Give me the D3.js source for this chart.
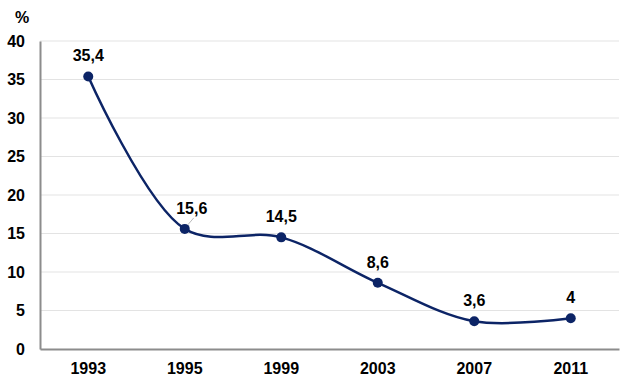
<!DOCTYPE html>
<html><head><meta charset="utf-8">
<script src="https://cdn.jsdelivr.net/npm/d3@7"></script>
<style>body{margin:0;background:#fff;}svg{display:block;font-family:"Liberation Sans",Arial,sans-serif;}</style>
</head><body>
<svg id="c" width="633" height="383"></svg>
<script>
const categories = ["1993","1995","1999","2003","2007","2011"];
const values = [35.4, 15.6, 14.5, 8.6, 3.6, 4];
const valueLabels = ["35,4","15,6","14,5","8,6","3,6","4"];
const yTicks = [0,5,10,15,20,25,30,35,40];

(function(){
const svg = d3.select("#c");
const mLeft = 40, mRight = 619, mTop = 41, mBottom = 349;
const x = d3.scaleBand().domain(categories).range([mLeft, mRight]);
const y = d3.scaleLinear().domain([0, 40]).range([mBottom, mTop]);

svg.append("g").selectAll("line").data(yTicks.filter(d => d > 0)).join("line")
  .attr("x1", mLeft).attr("x2", mRight)
  .attr("y1", d => y(d)).attr("y2", d => y(d))
  .attr("stroke", "#e3e3e3").attr("stroke-width", 1);

const ya = svg.append("g").attr("transform", `translate(${mLeft},0)`)
  .call(d3.axisLeft(y).tickValues(yTicks).tickSize(0).tickPadding(15).tickFormat(d3.format("d")));
ya.select(".domain").attr("stroke", "#8c8c8c").attr("stroke-width", 2);
ya.selectAll("text").attr("font-size", 16).attr("font-weight", "bold").attr("fill", "#000")
  .attr("font-family", "Liberation Sans, Arial, sans-serif");

const xa = svg.append("g").attr("transform", `translate(0,${mBottom})`)
  .call(d3.axisBottom(x).tickSize(0).tickPadding(14));
xa.select(".domain").attr("stroke", "#8c8c8c").attr("stroke-width", 2);
xa.selectAll("text").attr("font-size", 16).attr("font-weight", "bold").attr("fill", "#000")
  .attr("font-family", "Liberation Sans, Arial, sans-serif");

svg.append("text").attr("x", 22).attr("y", 23).attr("text-anchor", "middle")
  .attr("font-size", 16).attr("font-weight", "bold").text("%");

const cx = d => x(d) + x.bandwidth() / 2;
const pts = categories.map((c, i) => [cx(c), y(values[i])]);

svg.append("path").attr("d", d3.line().curve(d3.curveCatmullRom.alpha(0.5))(pts))
  .attr("fill", "none").attr("stroke", "#0c2466").attr("stroke-width", 2.5);

// leader line for shifted label (1995)
const p1 = pts[1];
svg.append("line").attr("x1", p1[0] + 3).attr("y1", p1[1] - 4).attr("x2", p1[0] + 9).attr("y2", p1[1] - 11)
  .attr("stroke", "#bbbbbb").attr("stroke-width", 1);

svg.append("g").selectAll("circle").data(pts).join("circle")
  .attr("cx", d => d[0]).attr("cy", d => d[1]).attr("r", 5).attr("fill", "#0c2466");

const dxs = [0, 7, 0, 0, 0, 0];
svg.append("g").selectAll("text").data(pts).join("text")
  .attr("x", (d, i) => d[0] + dxs[i]).attr("y", d => d[1] - 15).attr("text-anchor", "middle")
  .attr("font-size", 16).attr("font-weight", "bold").attr("fill", "#000")
  .text((d, i) => valueLabels[i]);
})();
</script>
</body></html>
